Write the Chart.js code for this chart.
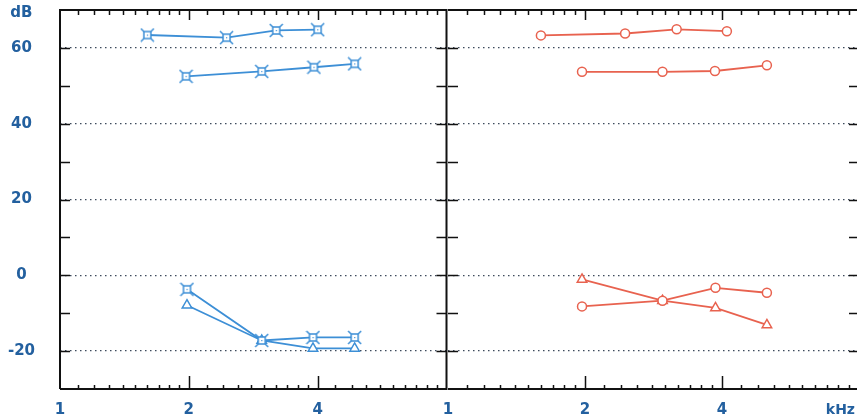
<!DOCTYPE html>
<html>
<head>
<meta charset="utf-8">
<script src="https://cdn.jsdelivr.net/npm/chart.js@4.4.1/dist/chart.umd.min.js"></script>
<style>
  html,body{margin:0;padding:0;background:#fff;}
  body{width:857px;height:419px;overflow:hidden;position:relative;}
  canvas{position:absolute;top:0;}
</style>
</head>
<body>
<canvas id="left" width="455" height="419" style="left:0px"></canvas>
<canvas id="right" width="440" height="419" style="left:440px"></canvas>
<script>
// ---------- DATA ----------
const xTickVals   = [1, 2, 4, 8];
const xTickLabels = ['1', '2', '4', ''];
const yLabelVals  = [-20, 0, 20, 40, 60];
const yUnitLabel  = 'dB';
const yUnitAt     = 69.3;
const xUnitLabel  = 'kHz';

// left panel (blue)
const leftFreqTop    = [1.6, 2.45, 3.2, 4.0];
const leftDbTop      = [63.4, 62.7, 64.6, 64.8];
const leftFreqMid    = [1.97, 2.96, 3.92, 4.88];
const leftDbMid      = [52.5, 53.8, 54.9, 55.8];
const leftFreqLow    = [1.98, 2.96, 3.9, 4.88];
const leftDbLowCross = [-3.7, -17.2, -16.4, -16.4];
const leftDbLowTri   = [-7.9, -17.2, -19.3, -19.3];

// right panel (red)
const rightFreqTop    = [1.6, 2.45, 3.18, 4.1];
const rightDbTop      = [63.3, 63.8, 64.9, 64.4];
const rightFreqMid    = [1.97, 2.96, 3.86, 5.02];
const rightDbMid      = [53.7, 53.7, 53.9, 55.4];
const rightFreqLow    = [1.97, 2.96, 3.87, 5.02];
const rightDbLowCirc  = [-8.2, -6.7, -3.3, -4.6];
const rightDbLowTri   = [-1.1, -6.7, -8.6, -13.1];

// ---------- STYLES ----------
const BLUE = '#3d8fd6';
const RED  = '#e8624f';
const LABEL = '#23609f';
const FONT = '"DejaVu Sans", "Liberation Sans", Arial, sans-serif';

function pts(xs, ys){ return xs.map((x,i)=>({x:x, y:ys[i]})); }

function makeStarSquare(color){
  const c = document.createElement('canvas');
  c.width = 15; c.height = 15;
  const g = c.getContext('2d');
  g.fillStyle = '#fff';
  g.fillRect(4,4,7,7);
  g.strokeStyle = color; g.lineWidth = 1.5;
  g.strokeRect(4,4,7,7);
  g.beginPath();
  [[4,4,1,1],[11,4,14,1],[4,11,1,14],[11,11,14,14]].forEach(([a,b,c2,d])=>{g.moveTo(a,b);g.lineTo(c2,d);});
  g.stroke();
  g.fillStyle = color;
  g.fillRect(7,7,1.2,1.2);
  return c;
}
const starBlue = makeStarSquare(BLUE);

function ds(data, color, style, radius){
  return {
    data: data,
    borderColor: color,
    backgroundColor: color,
    borderWidth: 1.8,
    pointStyle: style,
    pointRadius: radius,
    pointHoverRadius: radius,
    pointBackgroundColor: '#fff',
    pointBorderColor: color,
    pointBorderWidth: 1.5,
    tension: 0,
    fill: false
  };
}

function logMinorTicks(){
  const out = [];
  for (let v=1.1; v<1.95; v+=0.1) out.push(+v.toFixed(2));
  for (let v=2.2; v<3.95; v+=0.2) out.push(+v.toFixed(2));
  for (let v=4.4; v<7.9; v+=0.4) out.push(+v.toFixed(2));
  return out;
}

const framePlugin = {
  id: 'frame',
  beforeDatasetsDraw(chart, args, opts){
    const {ctx, chartArea: a, scales: {x, y}} = chart;
    ctx.save();
    ctx.strokeStyle = '#111';
    ctx.lineWidth = 1.5;
    ctx.beginPath();
    for (let v=-20; v<=60; v+=10){
      const py = Math.round(y.getPixelForValue(v)) + 0.5;
      ctx.moveTo(a.left, py); ctx.lineTo(a.left + 10, py);
      ctx.moveTo(a.right, py); ctx.lineTo(a.right - 10, py);
    }
    ctx.stroke();
    ctx.beginPath();
    logMinorTicks().forEach(v=>{
      const px = Math.round(x.getPixelForValue(v)) + 0.5;
      ctx.moveTo(px, a.top); ctx.lineTo(px, a.top + 5);
      ctx.moveTo(px, a.bottom); ctx.lineTo(px, a.bottom - 4);
    });
    [2,4].forEach(v=>{
      const px = Math.round(x.getPixelForValue(v)) + 0.5;
      ctx.moveTo(px, a.top); ctx.lineTo(px, a.top + 10);
      ctx.moveTo(px, a.bottom); ctx.lineTo(px, a.bottom - 13);
    });
    ctx.stroke();
    ctx.lineWidth = 2;
    ctx.beginPath();
    if (opts.leftEdge) { ctx.moveTo(a.left, a.bottom); ctx.lineTo(a.left, a.top); }
    else { ctx.moveTo(a.left, a.top); }
    ctx.lineTo(a.right, a.top);
    ctx.lineTo(a.right, a.bottom);
    ctx.lineTo(a.left, a.bottom);
    ctx.stroke();
    ctx.restore();
  }
};

const unitPlugin = {
  id: 'unit',
  afterDraw(chart, args, opts){
    if (!opts.text) return;
    const ctx = chart.ctx;
    ctx.save();
    ctx.font = 'bold 14px ' + FONT;
    ctx.fillStyle = LABEL;
    ctx.textAlign = 'right';
    ctx.textBaseline = 'middle';
    ctx.fillText(opts.text, opts.x, opts.y);
    ctx.restore();
  }
};

function makeOptions(isLeft, rightPad, leftPad, unit){
  return {
    responsive: false,
    animation: false,
    events: [],
    layout: { padding: { top: 10, left: leftPad, right: rightPad, bottom: 0 } },
    plugins: {
      legend: { display: false }, tooltip: { enabled: false },
      unit: unit, frame: { leftEdge: isLeft }
    },
    scales: {
      x: {
        type: 'logarithmic',
        min: 1, max: 8,
        afterBuildTicks: s => { s.ticks = xTickVals.map(v=>({value:v, major:false})); },
        afterFit: s => { s.height = 30; s.paddingLeft = 0; s.paddingRight = 0; },
        grid: { display: false, drawTicks: false },
        border: { display: false },
        ticks: {
          autoSkip: false, maxRotation: 0, minRotation: 0, padding: 12,
          color: LABEL, font: { family: FONT, size: 15, weight: 'bold' },
          callback: (v, i) => xTickLabels[i]
        }
      },
      y: {
        type: 'linear',
        display: true,
        min: -30, max: 70,
        afterBuildTicks: s => {
          const t = [];
          for (let v=-30; v<=60; v+=10) t.push({value:v});
          t.push({value: yUnitAt});
          s.ticks = t;
        },
        afterFit: s => { s.width = isLeft ? 60 : 0; s.paddingTop = 0; s.paddingBottom = 0; },
        grid: {
          drawTicks: false,
          color: c => (yLabelVals.includes(c.tick.value) ? '#3d4a5c' : 'rgba(0,0,0,0)'),
          lineWidth: 1.3
        },
        border: { display: false, dash: [1.5, 3.5] },
        ticks: {
          display: isLeft,
          crossAlign: 'center', padding: 25,
          color: LABEL, font: { family: FONT, size: 15, weight: 'bold' },
          callback: v => (v === yUnitAt ? yUnitLabel : (yLabelVals.includes(v) ? String(v) : ''))
        }
      }
    }
  };
}

new Chart(document.getElementById('left'), {
  type: 'line',
  data: {
    datasets: [
      ds(pts(leftFreqTop, leftDbTop), BLUE, starBlue, 7),
      ds(pts(leftFreqMid, leftDbMid), BLUE, starBlue, 7),
      ds(pts(leftFreqLow, leftDbLowCross), BLUE, starBlue, 7),
      ds(pts(leftFreqLow, leftDbLowTri), BLUE, 'triangle', 5.5)
    ]
  },
  options: makeOptions(true, 7, 0, {}),
  plugins: [framePlugin, unitPlugin]
});

new Chart(document.getElementById('right'), {
  type: 'line',
  data: {
    datasets: [
      ds(pts(rightFreqTop, rightDbTop), RED, 'circle', 4.5),
      ds(pts(rightFreqMid, rightDbMid), RED, 'circle', 4.5),
      ds(pts(rightFreqLow, rightDbLowCirc), RED, 'circle', 4.5),
      ds(pts(rightFreqLow, rightDbLowTri), RED, 'triangle', 5.5)
    ]
  },
  options: makeOptions(false, 21, 8, { text: xUnitLabel, x: 415, y: 410 }),
  plugins: [framePlugin, unitPlugin]
});
</script>
</body>
</html>
